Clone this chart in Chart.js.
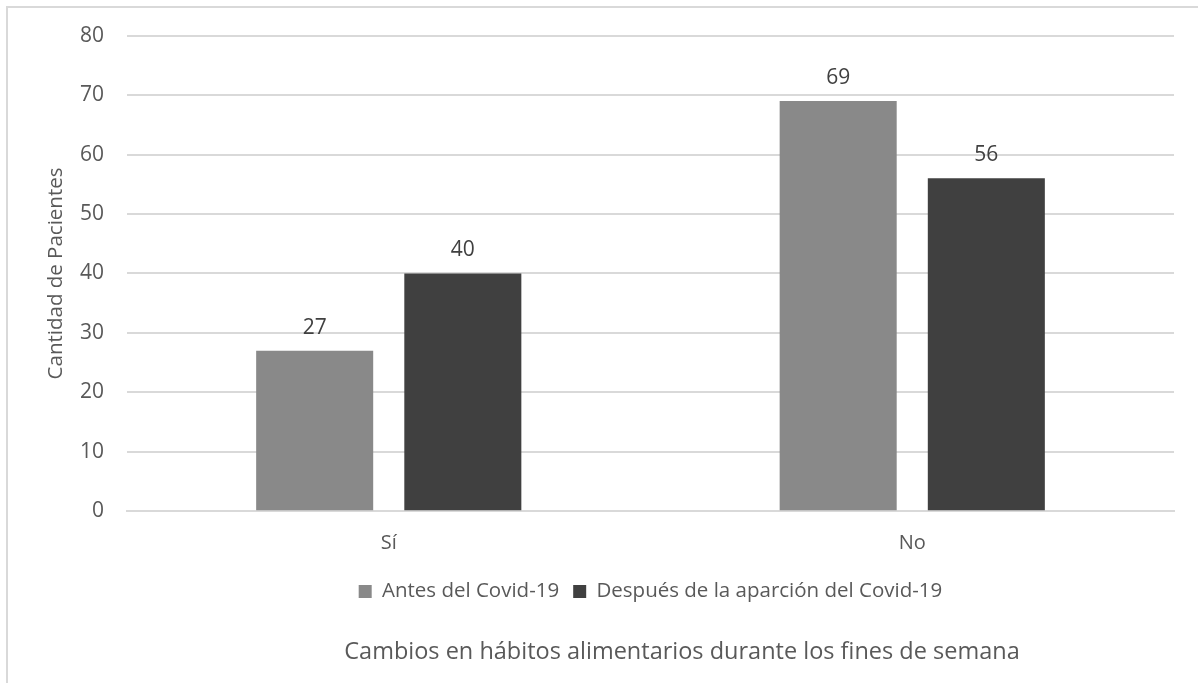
<!DOCTYPE html>
<html>
<head>
<meta charset="utf-8">
<script src="https://cdn.jsdelivr.net/npm/chart.js@4/dist/chart.umd.min.js"></script>
<style>
  html, body { margin: 0; padding: 0; background: #fff; }
  #frame {
    position: absolute; left: 6px; top: 6px;
    width: 1200px; height: 690px;
    border: 2px solid #d9d9d9; box-sizing: border-box;
  }
  #wrap { position: absolute; left: 0; top: 0; width: 1198px; height: 683px; }
</style>
</head>
<body>
<div id="frame"></div>
<div id="wrap"><canvas id="chart"></canvas></div>
<script>
const categories = ["Sí", "No"];
const antes = [27, 69];
const despues = [40, 56];
const seriesNames = ["Antes del Covid-19", "Después de la aparción del Covid-19"];
const yTicks = [0, 10, 20, 30, 40, 50, 60, 70, 80];

const FONT = "'Open Sans', sans-serif";
const TEXT = "#595959";

// values above each bar
const barLabels = {
  id: "barLabels",
  afterDatasetsDraw(chart) {
    const ctx = chart.ctx;
    ctx.save();
    ctx.font = "21px " + FONT;
    ctx.fillStyle = "#404040";
    ctx.textAlign = "center";
    ctx.textBaseline = "alphabetic";
    chart.data.datasets.forEach((ds, i) => {
      chart.getDatasetMeta(i).data.forEach((bar, j) => {
        ctx.fillText(ds.data[j], bar.x, bar.y - 17);
      });
    });
    ctx.restore();
  },
};

// the bottom title sits a bit right of centre in the original
const titleShift = {
  id: "titleShift",
  afterLayout(chart) {
    const t = chart.titleBlock;
    if (t) { t.left += 73; t.right += 73; }
  },
};

new Chart(document.getElementById("chart"), {
  type: "bar",
  data: {
    labels: categories,
    datasets: [
      { label: seriesNames[0], data: antes, backgroundColor: "#898989" },
      { label: seriesNames[1], data: despues, backgroundColor: "#404040" },
    ],
  },
  options: {
    responsive: true,
    maintainAspectRatio: false,
    animation: false,
    layout: { padding: { left: 44, right: 24, top: 22, bottom: 17 } },
    datasets: { bar: { categoryPercentage: 0.566, barPercentage: 0.79 } },
    scales: {
      x: {
        grid: { display: false },
        border: { color: "#d9d9d9", width: 2 },
        ticks: { color: TEXT, font: { family: FONT, size: 20 }, padding: 12 },
      },
      y: {
        min: 0,
        max: 80,
        afterBuildTicks: (s) => { s.ticks = yTicks.map((v) => ({ value: v })); },
        afterFit: (s) => { s.width = 83; },
        grid: { color: "#d9d9d9", lineWidth: 2, drawTicks: false },
        border: { display: false },
        ticks: { color: TEXT, font: { family: FONT, size: 21 }, padding: 23 },
        title: {
          display: true,
          text: "Cantidad de Pacientes",
          color: TEXT,
          font: { family: FONT, size: 20.5 },
          padding: { top: 0, bottom: 0 },
        },
      },
    },
    plugins: {
      legend: {
        position: "bottom",
        fullSize: false,
        labels: {
          color: TEXT,
          font: { family: FONT, size: 20.5 },
          boxWidth: 13,
          boxHeight: 13,
          padding: 14,
        },
      },
      title: {
        display: true,
        position: "bottom",
        text: "Cambios en hábitos alimentarios durante los fines de semana",
        color: TEXT,
        font: { family: FONT, size: 23.5, weight: "normal" },
        padding: { top: 26, bottom: 0 },
      },
      tooltip: { enabled: false },
    },
  },
  plugins: [barLabels, titleShift],
});
</script>
</body>
</html>
